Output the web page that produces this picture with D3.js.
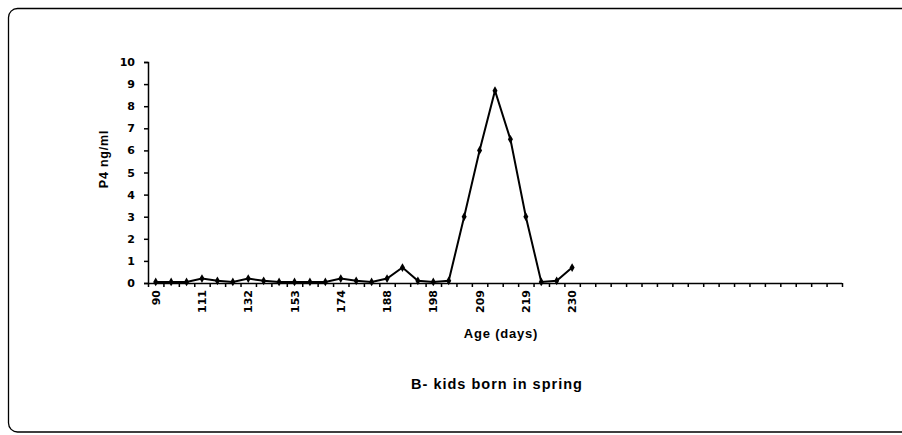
<!DOCTYPE html>
<html lang="en">
<head>
    <meta charset="UTF-8">
    <title>B- kids born in spring</title>
    <script src="https://d3js.org/d3.v7.min.js"></script>
    <style>
        body { margin: 0; background: #fff; }
        text { font-family: "DejaVu Sans", sans-serif; font-weight: bold; fill: #000; }
    </style>
</head>
<body>
    <svg width="902" height="435"></svg>

    <script>
        // Data (age in days, progesterone ng/ml)
        const days = [90, 97, 104, 111, 118, 125, 132, 139, 146, 153, 160, 167, 174, 179,
                      184, 188, 191, 195, 198, 202, 206, 209, 212, 216, 219, 223, 226, 230];
        const p4 = [0.05, 0.05, 0.05, 0.2, 0.1, 0.05, 0.2, 0.1, 0.05, 0.05, 0.05, 0.05, 0.2, 0.1,
                    0.05, 0.2, 0.7, 0.1, 0.05, 0.1, 3, 6, 8.7, 6.5, 3, 0.05, 0.1, 0.7];
        const slotCount = 45;          // category slots on the axis (the rest are empty)
        const labelStep = 3;
        const yTicks = [0, 1, 2, 3, 4, 5, 6, 7, 8, 9, 10];

        const svg = d3.select("svg");

        // frame (right side runs off the page)
        svg.append("rect")
            .attr("x", 8.5).attr("y", 8.5)
            .attr("width", 940).attr("height", 423.5)
            .attr("rx", 9)
            .attr("fill", "none")
            .attr("stroke", "#000")
            .attr("stroke-width", 1.3);

        const m = { left: 148, right: 842, top: 62, bottom: 283 };

        const x = d3.scaleBand().domain(d3.range(slotCount)).range([m.left, m.right]).padding(0);
        const xEdge = d3.scaleLinear().domain([0, slotCount]).range([m.left, m.right]);
        const y = d3.scaleLinear().domain([0, 10]).range([m.bottom, m.top]);
        const cx = i => x(i) + x.bandwidth() / 2;

        // y axis
        const yAxis = svg.append("g")
            .attr("transform", `translate(${m.left},0)`)
            .call(d3.axisLeft(y).tickValues(yTicks).tickSize(4).tickPadding(9));
        yAxis.selectAll("path, line").attr("stroke", "#000").attr("stroke-width", 1.5);
        yAxis.selectAll("text").style("font-size", "11px");

        // x axis: tick marks between categories
        const xAxis = svg.append("g")
            .attr("transform", `translate(0,${m.bottom})`)
            .call(d3.axisBottom(xEdge).tickValues(d3.range(slotCount + 1)).tickSize(4).tickFormat(""));
        xAxis.selectAll("path, line").attr("stroke", "#000").attr("stroke-width", 1.5);
        xAxis.select(".domain").attr("d", `M${m.left},0.5H${m.right}`);

        // x labels, every third day, rotated
        const labelIdx = days.map((d, i) => i).filter(i => i % labelStep === 0);
        svg.append("g").selectAll("text")
            .data(labelIdx)
            .join("text")
            .attr("transform", i => `translate(${cx(i) + 4},${m.bottom + 7}) rotate(-90)`)
            .attr("text-anchor", "end")
            .style("font-size", "11px")
            .text(i => days[i]);

        // line
        const line = d3.line().x((d, i) => cx(i)).y(d => y(d));
        svg.append("path")
            .datum(p4)
            .attr("d", line)
            .attr("fill", "none")
            .attr("stroke", "#000")
            .attr("stroke-width", 2);

        // diamond markers
        svg.append("g").selectAll("path")
            .data(p4)
            .join("path")
            .attr("transform", (d, i) => `translate(${cx(i)},${y(d)})`)
            .attr("d", d3.symbol(d3.symbolDiamond, 22))
            .attr("fill", "#000");

        // axis titles
        svg.append("text")
            .attr("transform", `translate(108,159) rotate(-90)`)
            .attr("text-anchor", "middle")
            .style("font-size", "12.5px")
            .style("font-family", "'Liberation Sans', Arial, sans-serif")
            .style("letter-spacing", "0.8px")
            .text("P4 ng/ml");

        svg.append("text")
            .attr("x", 501).attr("y", 338)
            .attr("text-anchor", "middle")
            .style("font-size", "13px")
            .style("font-family", "'Liberation Sans', Arial, sans-serif")
            .style("letter-spacing", "0.8px")
            .text("Age (days)");

        svg.append("text")
            .attr("x", 497).attr("y", 389)
            .attr("text-anchor", "middle")
            .style("font-size", "14.5px")
            .style("font-family", "'Liberation Sans', Arial, sans-serif")
            .style("letter-spacing", "1px")
            .text("B- kids born in spring");
    </script>
</body>
</html>
